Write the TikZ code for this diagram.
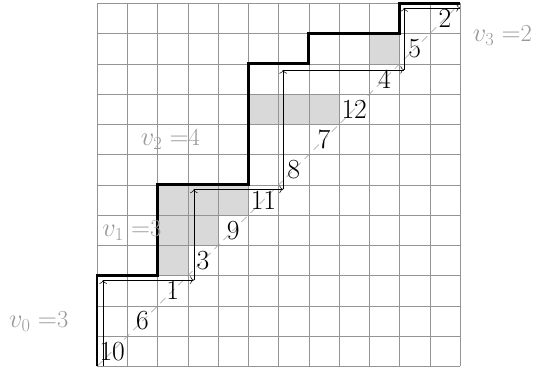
\documentclass[tikz,border=0pt]{standalone}
\usetikzlibrary{arrows.meta}
\begin{document}
\begin{tikzpicture}[
  gridline/.style={draw=black!42, line width=0.5pt},
  pathline/.style={draw=black, line width=2.6pt, line join=miter},
  stepline/.style={draw=black, line width=0.5pt, -{To[length=3.5pt,width=7pt]}},
  diag/.style={draw=black!40, line width=0.5pt, dash pattern=on 7pt off 5pt},
  shadecell/.style={fill=black!15},
  num/.style={font=\fontsize{26}{30}\selectfont, inner sep=0pt},
  vlab/.style={text=black!40, font=\fontsize{23}{27}\selectfont, inner sep=0pt}
]
\useasboundingbox (-3.21,-0.15) rectangle (14.51,12.11);
% shaded cells
\fill[shadecell] (2,3) -- (3,3) -- (3,4) -- (4,4) -- (4,5) -- (5,5) -- (5,6) -- (2,6) -- cycle;
\fill[shadecell] (5,8) rectangle (8,9);
\fill[shadecell] (9,10) rectangle (10,11);
% grid
\draw[gridline] (0,0) grid (12,12);
% diagonal
\coordinate (d0) at (0,0);
\coordinate (d1) at (12,12);
\draw[diag] (d0) -- (d1);
% numbers on the diagonal
\foreach \lab [count=\i from 0] in {10,6,1,3,9,11,8,7,12,4,5,2}
  \node[num] (n\i) at (\i+0.5,\i+0.5) {\lab};
% thick lattice path
\draw[pathline] (0,0) -- (0,3) -- (2,3) -- (2,6) -- (5,6) -- (5,10) -- (7,10) -- (7,11) -- (10,11) -- (10,12) -- (12,12);
% thin step arrows
\coordinate (s0) at (0.2,0);
\coordinate (s1) at (0.2,2.85);
\coordinate (s2) at (3.2,2.85);
\coordinate (s3) at (3.2,5.85);
\coordinate (s4) at (6.15,5.85);
\coordinate (s5) at (6.15,9.8);
\coordinate (s6) at (10.15,9.8);
\coordinate (s7) at (10.15,11.85);
\coordinate (s8) at (12,11.85);
\foreach \a/\b in {s0/s1,s1/s2,s2/s3,s3/s4,s4/s5,s5/s6,s6/s7,s7/s8}
  \draw[stepline] (\a) -- (\b);
% labels
\node[vlab] (v0) at (-1.93,1.5) {$v_0 =$3};
\node[vlab] (v1) at (1.15,4.5) {$v_1 =$3};
\node[vlab] (v2) at (2.42,7.5) {$v_2 =$4};
\node[vlab] (v3) at (13.4,10.95) {$v_3 =$2};
\end{tikzpicture}
\end{document}
